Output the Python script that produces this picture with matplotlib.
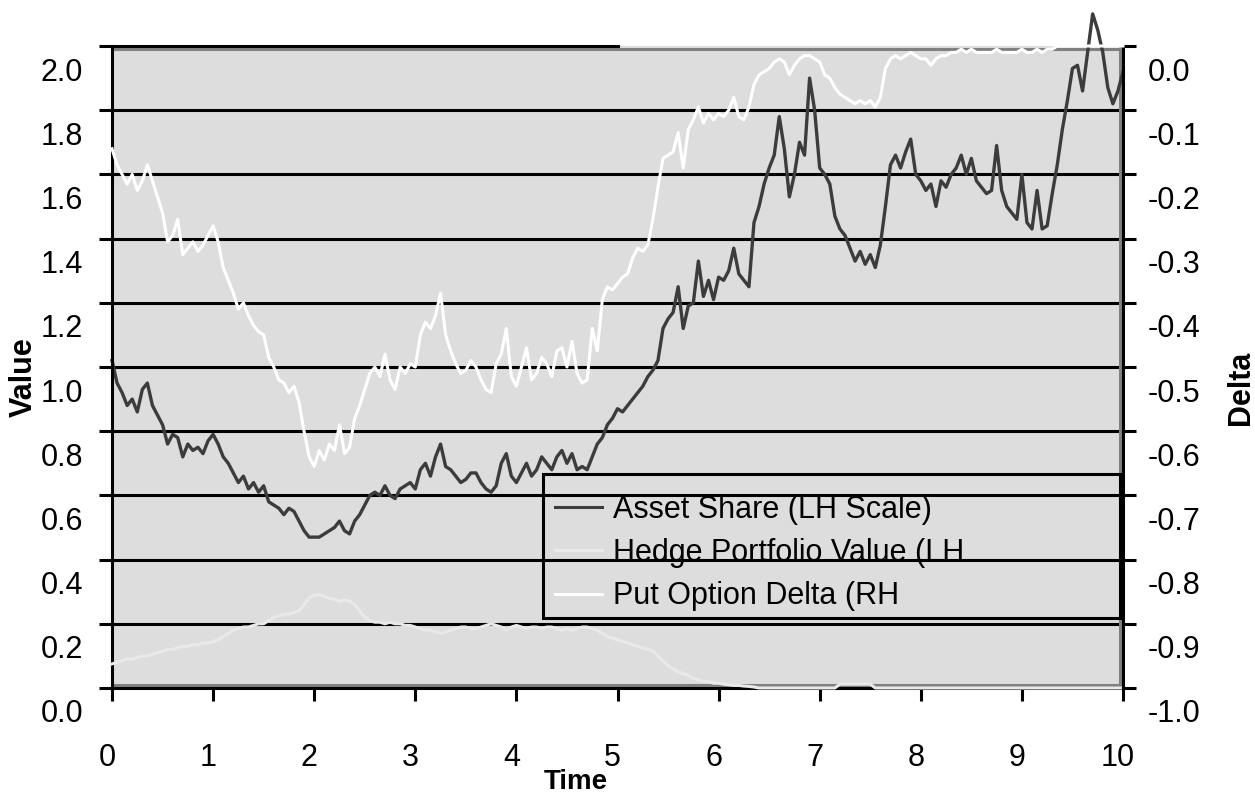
import numpy as np
import matplotlib
matplotlib.use("Agg")
import matplotlib.pyplot as plt
from matplotlib.transforms import ScaledTranslation
from matplotlib.lines import Line2D
from matplotlib.patches import Rectangle

plt.rcParams['font.family'] = ['Liberation Sans', 'DejaVu Sans']

# ---------------- data ----------------
time = np.round(np.arange(0, 10.0001, 0.05), 2)  # sampling grid, 201 points

asset_share = [
    1.02, 0.95, 0.92, 0.88, 0.90, 0.86, 0.93, 0.95, 0.88, 0.85, 0.82, 0.76, 0.79, 0.78, 0.72, 0.76, 0.74, 0.75, 0.73, 0.77,
    0.79, 0.76, 0.72, 0.70, 0.67, 0.64, 0.66, 0.62, 0.64, 0.61, 0.63, 0.58, 0.57, 0.56, 0.54, 0.56, 0.55, 0.52, 0.49, 0.47,
    0.47, 0.47, 0.48, 0.49, 0.50, 0.52, 0.49, 0.48, 0.52, 0.54, 0.57, 0.60, 0.61, 0.60, 0.63, 0.60, 0.59, 0.62, 0.63, 0.64,
    0.62, 0.68, 0.70, 0.66, 0.72, 0.76, 0.69, 0.68, 0.66, 0.64, 0.65, 0.67, 0.67, 0.64, 0.62, 0.61, 0.63, 0.70, 0.73, 0.66,
    0.64, 0.67, 0.70, 0.66, 0.68, 0.72, 0.70, 0.68, 0.72, 0.74, 0.70, 0.73, 0.68, 0.69, 0.68, 0.72, 0.76, 0.78, 0.82, 0.84,
    0.87, 0.86, 0.88, 0.90, 0.92, 0.94, 0.97, 0.99, 1.02, 1.12, 1.15, 1.17, 1.25, 1.12, 1.19, 1.20, 1.33, 1.22, 1.27, 1.21,
    1.28, 1.27, 1.30, 1.37, 1.29, 1.27, 1.25, 1.45, 1.50, 1.57, 1.62, 1.66, 1.78, 1.68, 1.53, 1.60, 1.70, 1.66, 1.90, 1.80,
    1.62, 1.60, 1.57, 1.47, 1.43, 1.41, 1.37, 1.33, 1.36, 1.32, 1.35, 1.31, 1.38, 1.50, 1.63, 1.66, 1.62, 1.67, 1.71, 1.60,
    1.58, 1.55, 1.57, 1.50, 1.58, 1.56, 1.60, 1.62, 1.66, 1.60, 1.65, 1.58, 1.56, 1.54, 1.55, 1.69, 1.55, 1.50, 1.48, 1.46,
    1.60, 1.45, 1.43, 1.55, 1.43, 1.44, 1.54, 1.63, 1.74, 1.83, 1.93, 1.94, 1.86, 1.98, 2.10, 2.05, 1.98, 1.87, 1.82, 1.86,
    1.92,
]

hedge_value = [
    0.075, 0.08, 0.085, 0.09, 0.09, 0.095, 0.10, 0.10, 0.105, 0.11, 0.115, 0.12, 0.12, 0.125, 0.13, 0.13, 0.135, 0.135, 0.14, 0.14,
    0.145, 0.15, 0.16, 0.17, 0.18, 0.185, 0.19, 0.19, 0.195, 0.20, 0.20, 0.21, 0.22, 0.225, 0.23, 0.23, 0.235, 0.24, 0.26, 0.28,
    0.29, 0.29, 0.285, 0.28, 0.275, 0.27, 0.275, 0.27, 0.26, 0.24, 0.22, 0.21, 0.205, 0.205, 0.20, 0.205, 0.20, 0.20, 0.195, 0.195,
    0.19, 0.185, 0.18, 0.18, 0.175, 0.17, 0.175, 0.18, 0.185, 0.19, 0.19, 0.185, 0.185, 0.19, 0.195, 0.20, 0.195, 0.19, 0.18, 0.19,
    0.195, 0.19, 0.185, 0.19, 0.19, 0.185, 0.19, 0.19, 0.185, 0.18, 0.185, 0.18, 0.185, 0.19, 0.19, 0.185, 0.18, 0.17, 0.16, 0.155,
    0.15, 0.145, 0.14, 0.135, 0.13, 0.125, 0.12, 0.115, 0.10, 0.085, 0.07, 0.06, 0.05, 0.045, 0.04, 0.03, 0.025, 0.02, 0.02, 0.015,
    0.015, 0.012, 0.01, 0.008, 0.008, 0.006, 0.005, 0.003, 0.0, 0.0, 0.0, 0.0, 0.0, 0.0, 0.0, 0.0, 0.0, 0.0, 0.0, 0.0,
    0.0, 0.0, 0.0, 0.0, 0.012, 0.012, 0.012, 0.012, 0.012, 0.012, 0.012, 0.0, 0.0, 0.0, 0.0, 0.0, 0.0, 0.0, 0.0, 0.0,
    0.0, 0.0, 0.0, 0.0, 0.0, 0.0, 0.0, 0.0, 0.0, 0.0, 0.0, 0.0, 0.0, 0.0, 0.0, 0.0, 0.0, 0.0, 0.0, 0.0,
    0.0, 0.0, 0.0, 0.0, 0.0, 0.0, 0.0, 0.0, 0.0, 0.0, 0.0, 0.0, 0.0, 0.0, 0.0, 0.0, 0.0, 0.0, 0.0, 0.0,
    0.0,
]

put_delta = [
    -0.16, -0.185, -0.20, -0.215, -0.20, -0.225, -0.21, -0.185, -0.21, -0.235, -0.26, -0.305, -0.295, -0.27, -0.325, -0.315, -0.305, -0.32, -0.31, -0.295,
    -0.28, -0.305, -0.345, -0.365, -0.385, -0.41, -0.40, -0.42, -0.435, -0.445, -0.45, -0.485, -0.50, -0.52, -0.525, -0.54, -0.53, -0.555, -0.60, -0.64,
    -0.655, -0.63, -0.645, -0.62, -0.63, -0.59, -0.635, -0.625, -0.58, -0.56, -0.535, -0.51, -0.50, -0.515, -0.48, -0.52, -0.535, -0.50, -0.51, -0.495,
    -0.50, -0.45, -0.43, -0.44, -0.42, -0.385, -0.45, -0.475, -0.495, -0.51, -0.505, -0.49, -0.50, -0.52, -0.535, -0.54, -0.495, -0.48, -0.44, -0.515,
    -0.53, -0.50, -0.47, -0.52, -0.51, -0.485, -0.495, -0.515, -0.475, -0.47, -0.50, -0.46, -0.51, -0.525, -0.52, -0.44, -0.475, -0.395, -0.375, -0.38,
    -0.37, -0.36, -0.355, -0.33, -0.315, -0.32, -0.31, -0.27, -0.22, -0.175, -0.17, -0.165, -0.135, -0.19, -0.13, -0.115, -0.095, -0.12, -0.105, -0.115,
    -0.105, -0.11, -0.10, -0.08, -0.11, -0.115, -0.095, -0.06, -0.045, -0.04, -0.035, -0.025, -0.02, -0.025, -0.045, -0.03, -0.02, -0.015, -0.015, -0.02,
    -0.025, -0.045, -0.05, -0.065, -0.075, -0.08, -0.085, -0.09, -0.085, -0.09, -0.085, -0.095, -0.08, -0.035, -0.02, -0.015, -0.02, -0.015, -0.01, -0.015,
    -0.02, -0.02, -0.03, -0.02, -0.015, -0.015, -0.01, -0.01, -0.005, -0.01, -0.005, -0.01, -0.01, -0.01, -0.01, -0.005, -0.01, -0.01, -0.01, -0.01,
    -0.005, -0.01, -0.01, -0.005, -0.01, -0.005, -0.005, 0.0, 0.0, 0.0, 0.0, 0.0, 0.0, 0.0, 0.0, 0.0, 0.0, 0.0, 0.0, 0.0,
    0.0,
]

x_ticks = [0, 1, 2, 3, 4, 5, 6, 7, 8, 9, 10]
value_ticks = [0.0, 0.2, 0.4, 0.6, 0.8, 1.0, 1.2, 1.4, 1.6, 1.8, 2.0]
value_labels = ['0.0', '0.2', '0.4', '0.6', '0.8', '1.0', '1.2', '1.4', '1.6', '1.8', '2.0']
delta_ticks = [-1.0, -0.9, -0.8, -0.7, -0.6, -0.5, -0.4, -0.3, -0.2, -0.1, 0.0]
delta_labels = ['-1.0', '-0.9', '-0.8', '-0.7', '-0.6', '-0.5', '-0.4', '-0.3', '-0.2', '-0.1', '0.0']
legend_labels = ['Asset Share (LH Scale)', 'Hedge Portfolio Value (LH', 'Put Option Delta (RH']

# ---------------- styles ----------------
BG = '#dddddd'
C_ASSET = '#3c3c3c'
C_HEDGE = '#e9e9e9'
C_DELTA = '#ffffff'
BORDER_GRAY = '#808080'
FS = 22
LW = 2.2

W, H = 1255, 793
fig = plt.figure(figsize=(W / 100, H / 100), dpi=100)
fig.patch.set_facecolor('white')
L, R, T, B = 112, 1123, 46, 688
ax = fig.add_axes([L / W, 1 - B / H, (R - L) / W, (B - T) / H])
ax2 = ax.twinx()

ax.set_facecolor(BG)
ax.set_xlim(0, 10)
ax.set_ylim(0, 2.0)
ax2.set_ylim(-1.0, 0.0)

def px(dx, dy):
    return ScaledTranslation(dx / 100, dy / 100, fig.dpi_scale_trans)

def ax_x(p):
    return (p - L) / (R - L)

def ax_y(p):
    return (B - p) / (B - T)

# horizontal grid lines (black), inner ones only
for v in value_ticks[1:-1]:
    ax.axhline(v, color='black', lw=LW, zorder=1)

# gray plot-area border lines
g1 = ax.axhline(value_ticks[-1], color=BORDER_GRAY, lw=LW, zorder=1.5)
g1.set_transform(g1.get_transform() + px(0, -2.5))
g2 = ax.axhline(value_ticks[0], color=BORDER_GRAY, lw=LW, zorder=1.5)
g2.set_transform(g2.get_transform() + px(0, 3))
g3 = ax.axvline(x_ticks[-1], color=BORDER_GRAY, lw=LW, zorder=1.5)
g3.set_transform(g3.get_transform() + px(-3, 0))

# series
ax.plot(time, asset_share, color=C_ASSET, lw=2.4, zorder=2, clip_on=False)
ax.plot(time, hedge_value, color=C_HEDGE, lw=LW, zorder=3, clip_on=False)
ax2.plot(time, put_delta, color=C_DELTA, lw=LW, zorder=3, clip_on=False)

# spines
for s in ['left', 'bottom', 'top']:
    ax.spines[s].set_color('black')
    ax.spines[s].set_linewidth(LW)
ax.spines['right'].set_visible(False)
ax.spines['top'].set_bounds(0, 5.0)
for s in ['left', 'bottom', 'top']:
    ax2.spines[s].set_visible(False)
ax2.spines['right'].set_color('black')
ax2.spines['right'].set_linewidth(LW)

# ticks
ax.set_xticks(x_ticks)
ax.set_xticklabels([str(t) for t in x_ticks])
ax.set_yticks(value_ticks)
ax.set_yticklabels(value_labels)
ax2.set_yticks(delta_ticks)
ax2.set_yticklabels(delta_labels)

ax.tick_params(axis='x', direction='out', length=9.4, width=LW, pad=30, labelsize=FS, colors='black')
ax.tick_params(axis='y', direction='out', length=9.4, width=LW, pad=11.5, labelsize=FS, colors='black')
ax2.tick_params(axis='y', direction='out', length=9.4, width=LW, pad=8.6, labelsize=FS, colors='black')

for lab in ax.get_yticklabels():
    lab.set_transform(lab.get_transform() + px(0, -23))
for lab in ax2.get_yticklabels():
    lab.set_transform(lab.get_transform() + px(0, -23))
for lab in ax.get_xticklabels():
    lab.set_transform(lab.get_transform() + px(-5, 0))

# axis labels
ax.set_xlabel('Time', fontsize=20, fontweight='bold', va='center')
ax.xaxis.set_label_coords(ax_x(576), ax_y(782))
ax.set_ylabel('Value', fontsize=FS, fontweight='bold', va='center')
ax.yaxis.set_label_coords(ax_x(24), ax_y(377))
ax2.set_ylabel('Delta', fontsize=FS, fontweight='bold', va='center', rotation=90)
ax2.yaxis.set_label_coords(ax_x(1241), ax_y(388))

# legend: frame drawn as a rectangle, entries placed inside it
box = Rectangle((ax_x(543), ax_y(618)), ax_x(1120) - ax_x(543), ax_y(474) - ax_y(618),
                transform=ax2.transAxes, facecolor='none', edgecolor='black',
                lw=LW, zorder=6, clip_on=False)
ax2.add_patch(box)

handles = [Line2D([], [], color=C_ASSET, lw=LW),
           Line2D([], [], color=C_HEDGE, lw=LW),
           Line2D([], [], color=C_DELTA, lw=LW)]
leg = ax2.legend(handles, legend_labels,
                 bbox_to_anchor=(ax_x(555), ax_y(495)),
                 loc='upper left', borderaxespad=0, borderpad=0,
                 fontsize=FS, frameon=False,
                 handlelength=1.54, handletextpad=0.36,
                 labelspacing=0.43)
leg.set_zorder(5)

fig.savefig('out.png', dpi=100, facecolor='white')
